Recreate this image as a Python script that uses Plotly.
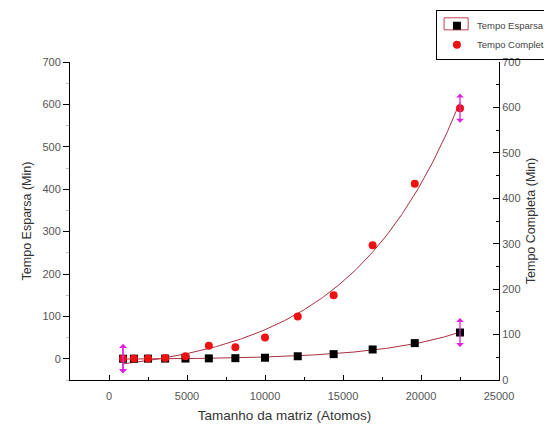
import numpy as np
import plotly.graph_objects as go

# Data
tamanho = [900, 1600, 2500, 3600, 4900, 6400, 8100, 10000, 12100, 14400, 16900, 19600, 22500]
tempo_esparsa = [0.2, 0.3, 0.4, 0.5, 0.6, 1.0, 1.5, 2.5, 6, 11, 22, 37, 62]
tempo_completa = [0.5, 0.5, 1, 2, 6, 31, 27, 50, 100, 150, 268, 413, 591]

x_ticks = [0, 5000, 10000, 15000, 20000, 25000]
x_tick_labels = ["0", "5000", "10000", "15000", "20000", "25000"]
y_ticks = [0, 100, 200, 300, 400, 500, 600, 700]
y_tick_labels = ["0", "100", "200", "300", "400", "500", "600", "700"]


def expfit(x, y):
    """Least-squares fit of y = y0 + A*exp(x/t)."""
    x = np.asarray(x, float)
    y = np.asarray(y, float)
    best = None
    for t in np.linspace(1500, 40000, 3000):
        M = np.vstack([np.ones_like(x), np.exp(x / t)]).T
        coef = np.linalg.lstsq(M, y, rcond=None)[0]
        sse = float(np.sum((M @ coef - y) ** 2))
        if best is None or sse < best[0]:
            best = (sse, coef, t)
    _, (y0, a), t = best
    return lambda xx: y0 + a * np.exp(np.asarray(xx) / t)


xs = np.linspace(min(tamanho), max(tamanho), 300)
fit_e = expfit(tamanho, tempo_esparsa)
fit_c = expfit(tamanho, tempo_completa)

fit_color = "#a8303e"
font_fam = "Liberation Sans, Arial, sans-serif"

fig = go.Figure()
fig.add_trace(go.Scatter(x=xs, y=fit_e(xs), mode="lines",
                         line=dict(color=fit_color, width=1), showlegend=False, hoverinfo="skip"))
fig.add_trace(go.Scatter(x=xs, y=fit_c(xs), mode="lines",
                         line=dict(color=fit_color, width=1), showlegend=False, hoverinfo="skip"))
fig.add_trace(go.Scatter(x=tamanho, y=tempo_esparsa, mode="markers", name="Tempo Esparsa",
                         marker=dict(symbol="square", size=8, color="black")))
fig.add_trace(go.Scatter(x=tamanho, y=tempo_completa, mode="markers", name="Tempo Completa",
                         marker=dict(symbol="circle", size=8, color="#ee1111")))
# invisible trace to activate the right axis
fig.add_trace(go.Scatter(x=[None], y=[None], yaxis="y2", showlegend=False, hoverinfo="skip"))

# magenta double arrows at the first and last point of each series
annotations = []
for series in (tempo_esparsa, tempo_completa):
    for i in (0, len(tamanho) - 1):
        for ay in (-16, 16):
            annotations.append(dict(x=tamanho[i], y=series[i], xref="x", yref="y",
                                    ax=0, ay=ay, text="", showarrow=True,
                                    arrowside="start", arrowhead=2, arrowsize=1.2,
                                    arrowwidth=1.3, arrowcolor="#dd22dd"))

tick_font = dict(family=font_fam, size=11, color="#555555")
ytitle_font = dict(family=font_fam, size=12.5, color="#333333")
xtitle_font = dict(family=font_fam, size=13.5, color="#333333")

fig.update_layout(
    width=544, height=420,
    margin=dict(l=62, r=53, t=54, b=48, autoexpand=False),
    paper_bgcolor="white", plot_bgcolor="white",
    font=dict(family=font_fam),
    xaxis=dict(range=[-2500, 25000], tickvals=x_ticks, ticktext=x_tick_labels,
               ticks="inside", ticklen=5, ticklabelstandoff=6,
               tickcolor="black", showline=True, linecolor="black", linewidth=1,
               showgrid=False, zeroline=False, tickfont=tick_font,
               minor=dict(dtick=2500, ticks="inside", ticklen=3, tickcolor="black"),
               title=dict(text="Tamanho da matriz (Atomos)", font=xtitle_font, standoff=9)),
    yaxis=dict(range=[-50, 700], tickvals=y_ticks, ticktext=y_tick_labels,
               ticks="outside", ticklen=6,
               tickcolor="black", showline=True, linecolor="black", linewidth=1,
               showgrid=False, zeroline=False, tickfont=tick_font,
               minor=dict(dtick=50, ticks="outside", ticklen=3, tickcolor="#bbbbbb"),
               title=dict(text="Tempo Esparsa (Min)", font=ytitle_font, standoff=8)),
    yaxis2=dict(range=[0, 700], tickvals=y_ticks, ticktext=y_tick_labels,
                overlaying="y", side="right",
                ticks="inside", ticklen=6, tickcolor="black", showline=True,
                linecolor="black", linewidth=1, showgrid=False, zeroline=False,
                tickfont=tick_font,
                minor=dict(dtick=50, ticks="inside", ticklen=3, tickcolor="black"),
                title=dict(text="Tempo Completa (Min)", font=ytitle_font, standoff=6)),
    legend=dict(x=0.853, y=1.163, xanchor="left", yanchor="top",
                bordercolor="black", borderwidth=1, bgcolor="rgba(0,0,0,0)",
                font=dict(family=font_fam, size=9.5, color="#444444"),
                tracegroupgap=0),
    annotations=annotations,
    shapes=[dict(type="rect", xref="paper", yref="paper",
                 x0=0.872, x1=0.928, y0=1.101, y1=1.139,
                 line=dict(color="#c04050", width=1))],
)

fig.write_html("out.html")
